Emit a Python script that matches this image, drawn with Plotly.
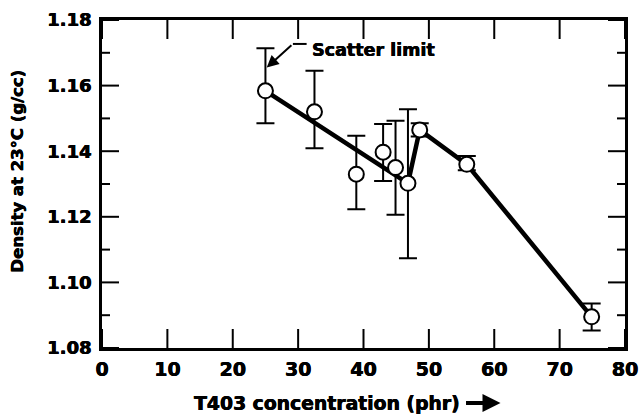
import plotly.graph_objects as go

# ---- data ----
conc = [25.0, 32.5, 38.9, 43.0, 44.9, 46.8, 48.6, 55.8, 74.9]
density = [1.1584, 1.1520, 1.1330, 1.1397, 1.1350, 1.1302, 1.1465, 1.1360, 1.0895]
upper = [1.1714, 1.1645, 1.1447, 1.1483, 1.1493, 1.1528, 1.1485, 1.1385, 1.0936]
lower = [1.1485, 1.1409, 1.1223, 1.1309, 1.1206, 1.1074, 1.1445, 1.1342, 1.0853]
trend_idx = [0, 5, 6, 7, 8]   # points joined by the heavy line

x_ticks = [0, 10, 20, 30, 40, 50, 60, 70, 80]
y_ticks = [1.08, 1.10, 1.12, 1.14, 1.16, 1.18]
y_ticklabels = ["1.08", "1.10", "1.12", "1.14", "1.16", "1.18"]
y_minor_ticks = [1.09, 1.11, 1.13, 1.15, 1.17]

X_RANGE = [0, 80]
Y_RANGE = [1.08, 1.18]
W, H = 640, 414
M = dict(l=102, r=15, t=20, b=66)

err_plus = [u - d for u, d in zip(upper, density)]
err_minus = [d - l for d, l in zip(density, lower)]

FONT = "DejaVu Sans"
SHADOW = "0.45px 0 0 black, -0.2px 0 0 black"

def bold(size):
    return dict(family=FONT, size=size, color="black", weight="bold", shadow=SHADOW)

# pixel -> data-unit conversions (for tick lengths)
x_per_px = (X_RANGE[1] - X_RANGE[0]) / (W - M["l"] - M["r"])
y_per_px = (Y_RANGE[1] - Y_RANGE[0]) / (H - M["t"] - M["b"])

# inward tick segments on all four sides, built from the tick arrays
tx, ty = [], []
for xt in x_ticks:
    tx += [xt, xt, None, xt, xt, None]
    ty += [Y_RANGE[0], Y_RANGE[0] + 19 * y_per_px, None,
           Y_RANGE[1], Y_RANGE[1] - 19 * y_per_px, None]
for yt, ln in [(v, 17) for v in y_ticks] + [(v, 8) for v in y_minor_ticks]:
    tx += [X_RANGE[0], X_RANGE[0] + ln * x_per_px, None,
           X_RANGE[1], X_RANGE[1] - ln * x_per_px, None]
    ty += [yt, yt, None, yt, yt, None]

fig = go.Figure()
fig.add_trace(go.Scatter(x=tx, y=ty, mode="lines", line=dict(color="black", width=2),
                         hoverinfo="skip"))
fig.add_trace(go.Scatter(
    x=[conc[i] for i in trend_idx], y=[density[i] for i in trend_idx],
    mode="lines", line=dict(color="black", width=4.5), hoverinfo="skip"))
fig.add_trace(go.Scatter(
    x=conc, y=density, mode="markers",
    marker=dict(size=15, color="white", line=dict(color="black", width=2)),
    error_y=dict(type="data", symmetric=False, array=err_plus, arrayminus=err_minus,
                 color="black", thickness=2, width=9)))

fig.update_layout(
    template="none",
    width=W, height=H, margin=M,
    paper_bgcolor="white", plot_bgcolor="white", showlegend=False,
    xaxis=dict(range=X_RANGE, tickmode="array", tickvals=x_ticks, ticks="",
               showline=True, linecolor="black", linewidth=2.8, mirror=True,
               showgrid=False, zeroline=False, tickfont=bold(19),
               ticklabelstandoff=2),
    yaxis=dict(range=Y_RANGE, tickmode="array", tickvals=y_ticks, ticktext=y_ticklabels,
               ticks="", showline=True, linecolor="black", linewidth=2.8, mirror=True,
               showgrid=False, zeroline=False, tickfont=bold(18), ticklabelstandoff=4),
)

# axis titles as annotations
fig.add_annotation(text="Density at 23°C (g/cc)", xref="paper", yref="paper",
                   x=-0.161, y=0.54, xanchor="center", yanchor="middle",
                   textangle=-90, showarrow=False, font=bold(16.5))
fig.add_annotation(text="T403 concentration (phr)", xref="paper", yref="paper",
                   x=0.172, y=-0.168, xanchor="left", yanchor="middle", showarrow=False,
                   font=bold(18.8))
fig.add_annotation(xref="paper", yref="paper", axref="pixel", ayref="pixel",
                   x=0.762, y=-0.168, ax=-36, ay=0, text="", showarrow=True,
                   arrowhead=2, arrowsize=0.9, arrowwidth=4, arrowcolor="black")

# Scatter limit label with bent leader
fig.add_annotation(text="Scatter limit", x=31.8, y=1.1709, xanchor="left", yanchor="middle",
                   showarrow=False, font=bold(17.5))
fig.add_shape(type="line", x0=29.2, y0=1.1727, x1=31.3, y1=1.1727,
              line=dict(color="black", width=2))
fig.add_annotation(x=25.2, y=1.1655, ax=29.2, ay=1.1727, axref="x", ayref="y",
                   text="", showarrow=True, arrowhead=2, arrowsize=1.2, arrowwidth=2,
                   arrowcolor="black")

fig.write_html("out.html")
